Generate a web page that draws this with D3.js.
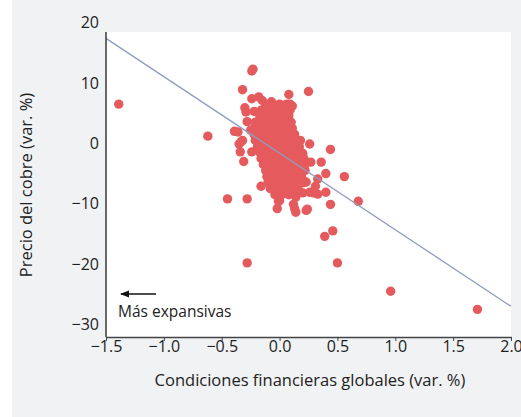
<!DOCTYPE html>
<html>
<head>
<meta charset="utf-8">
<script src="https://d3js.org/d3.v7.min.js"></script>
<style>
  body { margin: 0; background: white; }
  svg text { font-family: "Open Sans", sans-serif; fill: #222; font-weight: 500; }
</style>
</head>
<body>
<svg width="521" height="417"></svg>
<script>
// axis ticks
var xTicks = [-1.5, -1.0, -0.5, 0.0, 0.5, 1.0, 1.5, 2.0];
var yTicks = [20, 10, 0, -10, -20, -30];

// fitted line endpoints (x, y)
var fitX = [-1.5, 2.0];
var fitY = [17.4, -27.0];

// observations: [condiciones financieras, precio del cobre]
var points = [
  // dense core
  [-0.12,6.5],[-0.06,6.5],[0.0,6.5],[0.06,6.5],[0.09,6.5],
  [-0.16,5.5],[-0.10,5.5],[-0.03,5.5],[0.03,5.5],[0.09,5.5],
  [-0.17,4.5],[-0.11,4.5],[-0.05,4.5],[0.01,4.5],[0.07,4.5],
  [-0.21,3.5],[-0.15,3.5],[-0.09,3.5],[-0.03,3.5],[0.03,3.5],[0.10,3.5],
  [-0.22,2.5],[-0.16,2.5],[-0.10,2.5],[-0.04,2.5],[0.02,2.5],[0.08,2.5],[0.11,2.5],
  [-0.22,1.5],[-0.16,1.5],[-0.10,1.5],[-0.04,1.5],[0.02,1.5],[0.08,1.5],[0.13,1.5],
  [-0.21,0.5],[-0.15,0.5],[-0.09,0.5],[-0.03,0.5],[0.03,0.5],[0.10,0.5],[0.16,0.5],
  [-0.19,-0.5],[-0.13,-0.5],[-0.07,-0.5],[-0.01,-0.5],[0.05,-0.5],[0.11,-0.5],[0.17,-0.5],
  [-0.17,-1.5],[-0.11,-1.5],[-0.05,-1.5],[0.01,-1.5],[0.07,-1.5],[0.13,-1.5],[0.19,-1.5],
  [-0.16,-2.5],[-0.10,-2.5],[-0.03,-2.5],[0.03,-2.5],[0.09,-2.5],[0.15,-2.5],[0.21,-2.5],
  [-0.14,-3.5],[-0.08,-3.5],[-0.02,-3.5],[0.04,-3.5],[0.10,-3.5],[0.16,-3.5],[0.22,-3.5],
  [-0.12,-4.5],[-0.06,-4.5],[0.0,-4.5],[0.06,-4.5],[0.12,-4.5],[0.18,-4.5],[0.22,-4.5],
  [-0.11,-5.5],[-0.05,-5.5],[0.01,-5.5],[0.07,-5.5],[0.13,-5.5],[0.19,-5.5],
  [-0.10,-6.5],[-0.04,-6.5],[0.02,-6.5],[0.08,-6.5],[0.14,-6.5],[0.21,-6.5],
  [-0.08,-7.5],[-0.02,-7.5],[0.04,-7.5],[0.10,-7.5],[0.16,-7.5],
  [-0.04,-8.5],[0.02,-8.5],[0.08,-8.5],[0.14,-8.5],
  // edges of the cloud
  [-0.32,8.9],[0.25,8.6],[0.08,8.1],[-0.24,7.4],[-0.18,7.7],[-0.15,7.1],[-0.07,6.9],
  [0.11,6.2],[-0.30,5.9],[-0.29,5.2],[-0.22,5.3],[0.08,4.6],[-0.28,3.6],[-0.36,1.9],
  [-0.25,2.2],[-0.32,0.5],[-0.35,-0.1],[-0.34,-1.4],[-0.31,-3.0],[-0.24,-1.4],
  [0.18,0.5],[0.26,-0.1],[0.27,-3.1],[0.36,-3.1],[0.20,-1.7],[0.40,-5.0],[0.33,-5.9],
  [0.23,-6.4],[0.31,-7.1],[0.26,-8.1],[0.33,-8.4],[0.17,-8.1],[-0.16,-7.1],
  [0.0,-9.5],[0.14,-8.9],[-0.02,-10.8],[0.13,-10.8],[0.24,-10.9],[-0.39,2.0],
  [-0.33,0.3],[-0.01,-9.6],[0.44,-1.0],[0.56,-5.5],[0.12,-10.1],[0.14,-11.4],
  [0.20,-8.2],[0.29,-8.2],[0.40,-8.1],[-0.23,12.3],[-0.24,12.0],
  // outliers
  [-1.39,6.5],[-0.62,1.2],[-0.45,-9.2],[-0.28,-9.2],[-0.28,-19.8],[0.96,-24.5],
  [1.71,-27.5],[0.50,-19.8],[0.39,-15.4],[0.46,-14.5],[0.68,-9.6],[0.44,-10.1],
  [0.23,-11.1]
];

var svg = d3.select("svg");

var plotLeft = 106, plotRight = 511, plotTop = 32, plotBottom = 337;
var xs = d3.scaleLinear().domain([-1.5, 2.0]).range([plotLeft, plotRight]);
var ys = d3.scaleLinear().domain([-32, 20]).range([336.5, 22.7]);

// panel backgrounds
svg.append("rect").attr("x", 12).attr("y", 0).attr("width", 509).attr("height", 417)
  .style("fill", "#f1f2f4");
svg.append("rect").attr("x", plotLeft).attr("y", plotTop)
  .attr("width", plotRight - plotLeft).attr("height", plotBottom - plotTop)
  .style("fill", "white");

// points
svg.append("g").selectAll("circle").data(points).enter().append("circle")
  .attr("cx", function(d) { return xs(d[0]); })
  .attr("cy", function(d) { return ys(d[1]); })
  .attr("r", 4.7)
  .style("fill", "#e55b5d");

// regression line
svg.append("line")
  .attr("x1", xs(fitX[0])).attr("y1", ys(fitY[0]))
  .attr("x2", xs(fitX[1])).attr("y2", ys(fitY[1]))
  .style("stroke", "#8f9cc0").style("stroke-width", 1.3);

// x axis
var xAxis = svg.append("g")
  .attr("transform", "translate(0," + plotBottom + ")")
  .call(d3.axisBottom(xs).tickValues(xTicks).tickSize(4).tickSizeOuter(0)
    .tickFormat(d3.format(".1f")));
xAxis.select(".domain").style("stroke", "#444").style("stroke-width", 1.6);
xAxis.selectAll(".tick line").style("stroke", "#444");
xAxis.selectAll(".tick text").attr("y", 4).attr("dy", "0.71em")
  .style("font-size", "16px").style("font-family", "Open Sans").style("fill", "#222");

// y axis (line only from the panel top)
svg.append("line").attr("x1", plotLeft).attr("x2", plotLeft)
  .attr("y1", plotTop).attr("y2", plotBottom)
  .style("stroke", "#444").style("stroke-width", 1.6);
svg.append("g").selectAll("text").data(yTicks).enter().append("text")
  .attr("x", 99)
  .attr("y", function(d) { return ys(d); })
  .attr("dy", "0.35em")
  .attr("text-anchor", "end")
  .style("font-size", "16px")
  .text(function(d) { return d3.format("d")(d); });

// axis titles
svg.append("text")
  .attr("x", 310).attr("y", 386)
  .attr("text-anchor", "middle")
  .style("font-size", "16.5px")
  .text("Condiciones financieras globales (var. %)");
svg.append("text")
  .attr("transform", "translate(32,185) rotate(-90)")
  .attr("text-anchor", "middle")
  .style("font-size", "16.5px")
  .text("Precio del cobre (var. %)");

// annotation
svg.append("defs").append("marker")
  .attr("id", "head").attr("viewBox", "0 0 10 10")
  .attr("refX", 9).attr("refY", 5)
  .attr("markerWidth", 7).attr("markerHeight", 7)
  .attr("orient", "auto-start-reverse")
  .append("path").attr("d", "M0,1 L10,5 L0,9 Z").style("fill", "#111");
svg.append("line")
  .attr("x1", 156).attr("y1", 294).attr("x2", 121).attr("y2", 294)
  .style("stroke", "#111").style("stroke-width", 1.3)
  .attr("marker-end", "url(#head)");
svg.append("text")
  .attr("x", 118).attr("y", 317)
  .style("font-size", "15.5px")
  .text("Más expansivas");
</script>
</body>
</html>
